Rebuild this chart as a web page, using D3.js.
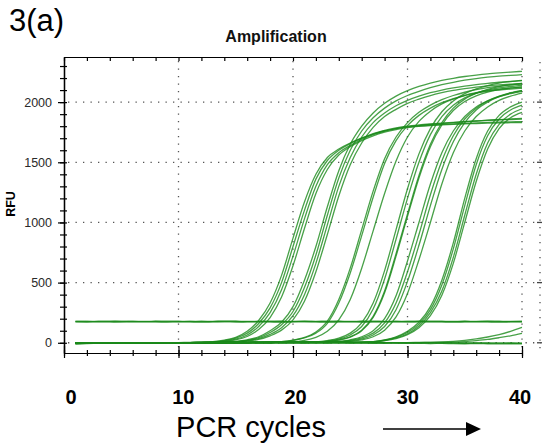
<!DOCTYPE html>
<html>
<head>
<meta charset="utf-8">
<script src="https://cdn.jsdelivr.net/npm/d3@7"></script>
<style>
  body { margin: 0; background: #fff; }
  text { font-family: "Liberation Sans", Arial, sans-serif; }
</style>
</head>
<body>
<script>
// PCR amplification curves, RFU per cycle

const cycles = [1,2,3,4,5,6,7,8,9,10,11,12,13,14,15,16,17,18,19,20,21,22,23,24,25,26,27,28,29,30,31,32,33,34,35,36,37,38,39,40];

// earliest group, plateau ~1850
const groupA = [
  [-4,-2,0,1,-1,0,2,1,0,2,3,5,10,22,45,95,185,330,560,870,1170,1400,1540,1610,1660,1700,1735,1760,1780,1795,1805,1815,1822,1830,1837,1843,1850,1855,1860,1865],
  [-3,0,1,-1,2,0,1,-2,1,2,2,4,8,18,38,80,160,290,500,800,1100,1360,1515,1600,1655,1700,1738,1765,1785,1800,1810,1818,1825,1832,1838,1843,1848,1852,1855,1858],
  [-2,1,0,2,-1,1,0,2,-1,1,2,3,6,14,30,65,135,250,440,720,1030,1300,1480,1580,1640,1690,1730,1760,1780,1795,1803,1810,1815,1820,1824,1828,1831,1834,1836,1838],
  [0,-2,1,0,1,-1,2,0,1,0,2,3,5,11,24,52,110,210,380,640,950,1240,1440,1560,1630,1680,1720,1750,1772,1788,1798,1805,1810,1815,1819,1822,1825,1827,1829,1830]
];

// second group, highest plateau
const groupB = [
  [-3,0,2,-1,1,0,-2,1,0,2,1,3,4,7,12,25,50,100,170,300,520,800,1130,1430,1650,1800,1910,1990,2050,2095,2130,2158,2180,2198,2213,2225,2235,2243,2250,2256],
  [-1,1,0,-2,2,1,0,-1,1,2,2,3,4,6,10,20,42,85,150,260,460,730,1060,1370,1600,1760,1870,1950,2010,2055,2090,2120,2145,2165,2182,2196,2207,2216,2222,2228],
  [1,-1,0,2,0,-2,1,0,2,1,1,2,3,5,8,17,35,70,125,225,400,660,980,1300,1540,1710,1830,1910,1970,2015,2050,2078,2100,2118,2133,2146,2156,2165,2172,2178],
  [0,2,-1,1,-1,0,2,1,-1,0,1,2,3,4,6,14,28,58,105,190,345,590,900,1220,1480,1660,1790,1880,1940,1990,2025,2055,2078,2097,2112,2125,2135,2143,2150,2156]
];

const groupC = [
  [-2,1,0,-1,2,0,1,-2,0,1,2,0,1,3,2,4,5,7,10,22,45,90,180,360,620,940,1260,1530,1710,1830,1915,1975,2020,2055,2082,2103,2120,2133,2143,2150],
  [0,-1,2,1,-1,0,2,1,-1,0,1,2,2,3,3,4,6,7,9,19,40,80,162,330,580,890,1210,1490,1680,1805,1890,1950,1995,2030,2057,2078,2095,2108,2118,2125],
  [1,-1,0,2,-2,0,1,0,2,-1,1,0,2,3,2,3,4,5,6,8,20,45,95,190,360,620,930,1240,1510,1710,1840,1925,1985,2025,2055,2075,2090,2100,2108,2115]
];

const groupD = [
  [-1,0,2,1,-2,0,1,-1,2,0,1,0,2,1,3,2,3,4,4,5,6,8,18,38,80,165,330,600,940,1280,1570,1780,1920,2010,2070,2110,2138,2158,2170,2180],
  [1,-2,0,1,0,2,-1,0,1,2,0,1,1,3,2,2,4,3,4,5,5,6,14,30,65,135,280,530,860,1200,1500,1730,1880,1975,2035,2075,2100,2118,2130,2140],
  [0,1,-1,2,0,-1,1,2,0,1,-1,2,1,2,3,2,3,4,3,4,5,5,11,24,50,105,220,430,740,1070,1390,1650,1830,1950,2025,2072,2105,2128,2143,2155],
  [-2,0,1,0,2,1,-1,0,2,1,0,1,2,1,2,3,3,2,4,4,4,5,10,22,47,100,210,415,720,1050,1370,1630,1810,1930,2005,2052,2083,2103,2117,2127],
  [0,-1,1,2,0,-2,1,0,1,2,-1,0,1,2,1,3,2,2,3,4,3,4,5,12,25,50,100,200,390,680,1000,1320,1580,1760,1880,1960,2010,2045,2070,2090],
  [1,0,-2,1,2,0,-1,1,0,2,1,0,2,1,2,2,3,3,4,3,5,4,6,10,20,40,80,165,330,590,900,1230,1510,1720,1860,1950,2010,2050,2078,2098],
  [-1,1,0,2,-1,0,2,1,-2,1,0,1,2,2,1,3,2,4,3,4,4,5,5,8,16,32,65,135,275,510,810,1140,1440,1670,1830,1935,2000,2045,2075,2095],
  [0,2,1,-1,0,1,-2,0,1,1,2,0,1,3,2,2,3,3,4,4,5,4,5,6,12,25,50,105,215,410,690,1000,1320,1580,1760,1880,1960,2015,2050,2075]
];

// latest group
const groupE = [
  [-2,0,1,-1,2,0,1,-1,0,2,1,-1,0,1,2,1,0,2,1,3,2,3,2,4,3,5,10,25,50,95,170,300,520,830,1200,1530,1760,1890,1960,2000],
  [1,-1,0,2,-2,1,0,1,-1,2,0,1,1,0,2,2,1,3,2,2,3,4,3,4,5,5,9,22,45,85,155,275,480,780,1140,1480,1720,1860,1935,1975],
  [0,1,-2,0,1,2,-1,0,1,0,2,1,-1,2,1,3,2,2,3,1,3,4,4,3,5,6,8,19,40,75,140,250,430,710,1060,1400,1660,1815,1900,1945],
  [-1,0,2,1,0,-1,1,2,0,-2,1,0,2,1,1,2,3,1,2,3,4,3,4,5,4,5,7,17,35,68,125,225,395,660,1000,1340,1610,1780,1870,1915]
];

// late risers, flat line at ~175 and baselines
const groupLate = [
  [-6,-3,-2,0,-1,1,0,-2,1,0,2,1,0,-1,1,2,1,0,2,1,0,-1,1,0,2,1,0,1,2,2,3,4,7,12,20,32,48,68,95,128],
  [-5,-2,-1,1,0,-1,2,0,1,-1,0,1,2,0,1,0,1,2,0,1,1,0,2,1,0,1,2,1,1,2,2,3,3,5,10,18,28,42,58,78]
];
const groupFlat = [
  [176,177,175,176,178,176,175,177,176,176,177,175,176,178,177,176,175,176,177,176,178,176,175,177,176,177,176,175,176,177,178,176,175,176,177,176,177,176,175,176],
  [173,172,174,173,172,174,173,173,172,174,173,172,173,174,172,173,174,173,172,173,174,173,172,173,174,172,173,173,174,172,173,174,173,172,173,174,173,172,173,174],
  [179,178,179,180,178,179,178,179,180,179,178,179,178,180,179,178,179,180,179,178,179,178,180,179,178,179,180,178,179,178,179,180,179,178,179,178,180,179,178,179]
];
const groupBase = [
  [-8,-5,-4,-3,-4,-2,-3,-2,-1,-2,-1,0,-1,0,1,0,-1,0,1,0,-1,0,-2,-1,-2,-3,-2,-4,-3,-5,-4,-6,-5,-7,-8,-7,-8,-9,-8,-9],
  [-4,-2,-1,0,-1,1,0,1,2,1,0,1,2,1,0,1,2,1,2,1,0,1,2,1,0,1,0,-1,0,1,0,-1,0,-1,-2,-1,-2,-3,-2,-3],
  [-9,-6,-4,-2,-3,-1,-2,0,-1,0,1,0,1,2,1,0,1,0,2,1,0,1,0,1,2,1,0,1,0,-1,0,-1,-2,-1,-3,-2,-4,-3,-4,-5]
];

const yMajor = [0, 500, 1000, 1500, 2000];
const xMajor = [0, 10, 20, 30, 40];
const yMinor = [0,100,200,300,400,500,600,700,800,900,1000,1100,1200,1300,1400,1500,1600,1700,1800,1900,2000,2100,2200,2300];
const xMinor = [0,2,4,6,8,10,12,14,16,18,20,22,24,26,28,30,32,34,36,38,40];

const W = 542, H = 443;
const svg = d3.select("body").append("svg").attr("width", W).attr("height", H);

const x = d3.scaleLinear().domain([0, 40]).range([64, 522]);
const y = d3.scaleLinear().domain([-85, 2375]).range([353, 57]);
// separately placed cycle labels under the chart
const xLab = d3.scaleLinear().domain([0, 40]).range([71, 520]);

// dotted grid
const grid = svg.append("g").attr("stroke", "#555").attr("stroke-width", 1.3).attr("stroke-dasharray", "1.3,6.2");
grid.selectAll(".gv").data(xMajor.slice(1)).enter().append("line")
  .attr("x1", d => x(d)).attr("x2", d => x(d))
  .attr("y1", y(2375) + 4).attr("y2", y(-85));
grid.selectAll(".gh").data(yMajor).enter().append("line")
  .attr("x1", x(0) + 4).attr("x2", 541)
  .attr("y1", d => y(d)).attr("y2", d => y(d));
grid.append("line").attr("x1", 540).attr("x2", 540).attr("y1", 62).attr("y2", 353);
svg.append("g").selectAll("line").data(yMajor).enter().append("line")
  .attr("x1", 537).attr("x2", 542).attr("y1", d => y(d)).attr("y2", d => y(d))
  .attr("stroke", "#444").attr("stroke-width", 1.3);

// curves
const allCurves = [].concat(groupBase, groupLate, groupFlat, groupA, groupB, groupC, groupD, groupE);
const line = d3.line()
  .x((d, i) => x(cycles[i]))
  .y(d => y(d))
  .curve(d3.curveMonotoneX);

svg.append("g").selectAll("path").data(allCurves).enter().append("path")
  .attr("d", line)
  .attr("fill", "none")
  .attr("stroke", "#1a8a1a")
  .attr("stroke-opacity", 0.8)
  .attr("stroke-width", 1.3);

// axes
function styleAxis(g) {
  g.selectAll("path.domain").attr("stroke", "#000").attr("stroke-width", 1.2);
  g.selectAll(".tick line").attr("stroke", "#000").attr("stroke-width", 1.2);
}

svg.append("g").attr("transform", `translate(${x(0)},0)`)
  .call(d3.axisLeft(y).tickValues(yMinor).tickSize(4).tickSizeOuter(0).tickFormat(""))
  .call(styleAxis);
svg.append("g").attr("transform", `translate(${x(0)},0)`)
  .call(d3.axisRight(y).tickValues(yMinor).tickSize(3).tickSizeOuter(0).tickFormat(""))
  .call(styleAxis);
const yAx = svg.append("g").attr("transform", `translate(${x(0)},0)`)
  .call(d3.axisLeft(y).tickValues(yMajor).tickSize(6).tickPadding(6).tickSizeOuter(0).tickFormat(d3.format("d")))
  .call(styleAxis);
yAx.selectAll("text").attr("font-size", 12.5).attr("fill", "#2a2a2a")
  .attr("font-family", '"Liberation Sans", Arial, sans-serif');

svg.append("g").attr("transform", `translate(0,${y(-85)})`)
  .call(d3.axisBottom(x).tickValues(xMinor).tickSize(3).tickSizeOuter(0).tickFormat(""))
  .call(styleAxis);
svg.append("g").attr("transform", `translate(0,${y(-85)})`)
  .call(d3.axisTop(x).tickValues(xMinor).tickSize(3).tickSizeOuter(0).tickFormat(""))
  .call(styleAxis);
svg.append("g").attr("transform", `translate(0,${y(-85)})`)
  .call(d3.axisBottom(x).tickValues(xMajor).tickSize(5).tickSizeOuter(0).tickFormat(""))
  .call(styleAxis);
svg.append("g").attr("transform", `translate(0,${y(-85)})`)
  .call(d3.axisTop(x).tickValues(xMajor).tickSize(7).tickSizeOuter(0).tickFormat(""))
  .call(styleAxis);
// top frame
svg.append("g").attr("transform", `translate(0,${y(2375)})`)
  .call(d3.axisBottom(x).tickValues(xMinor).tickSize(4).tickSizeOuter(0).tickFormat(""))
  .call(styleAxis);

// cycle labels
svg.append("g").selectAll("text").data(xMajor).enter().append("text")
  .attr("x", d => xLab(d))
  .attr("y", 404)
  .attr("text-anchor", "middle")
  .attr("font-size", 20)
  .attr("font-weight", "bold")
  .text(d => d);

// texts
svg.append("text").attr("x", 9).attr("y", 31).attr("font-size", 31).text("3(a)");
svg.append("text").attr("x", 276).attr("y", 42).attr("text-anchor", "middle")
  .attr("font-size", 16).attr("font-weight", "bold").attr("fill", "#111").text("Amplification");
svg.append("text").attr("transform", "translate(15,204) rotate(-90)")
  .attr("text-anchor", "middle").attr("font-size", 12.5).attr("font-weight", "bold").text("RFU");
svg.append("text").attr("x", 251).attr("y", 437).attr("text-anchor", "middle")
  .attr("font-size", 29).text("PCR cycles");

// arrow
svg.append("line").attr("x1", 383).attr("x2", 468).attr("y1", 429).attr("y2", 429)
  .attr("stroke", "#000").attr("stroke-width", 1.6);
svg.append("path").attr("d", "M466,422 L481,429 L466,436 Z").attr("fill", "#000");
</script>
</body>
</html>
